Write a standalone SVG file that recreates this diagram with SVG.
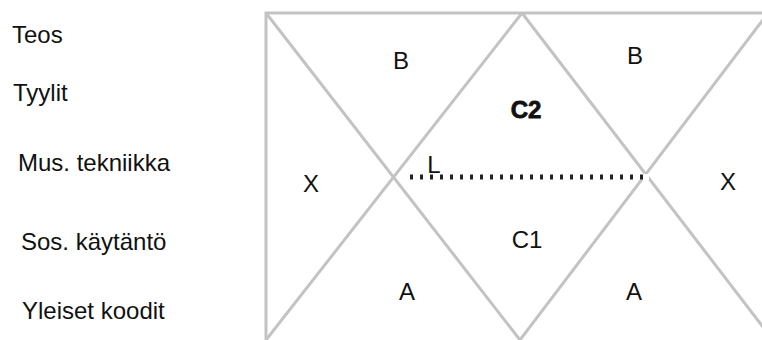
<svg xmlns="http://www.w3.org/2000/svg" width="762" height="340" viewBox="0 0 762 340">
<style>
.ln{stroke:#c3c3c3;stroke-width:3;fill:none}
.lab{font-family:"Liberation Sans",Arial,sans-serif;font-size:24px;fill:#111}
.reg{font-family:"Liberation Sans",Arial,sans-serif;font-size:24px;fill:#111;text-anchor:middle}
.dot{stroke:#222;stroke-width:5;stroke-dasharray:3 7;fill:none}
</style>
<rect width="762" height="340" fill="#fff"/>
<g id="connectors">
<path class="ln" d="M266,340 V13 H762"/>
<line class="ln" x1="266" y1="13" x2="520" y2="340"/>
<line class="ln" x1="522" y1="13" x2="266" y2="340"/>
<line class="ln" x1="522" y1="13" x2="773" y2="340"/>
<line class="ln" x1="520" y1="340" x2="768" y2="13"/>
<line class="dot" x1="410" y1="177" x2="643" y2="177"/>
<rect x="643" y="174" width="6" height="6" fill="#fff"/>
</g>
<g id="levels">
<text class="lab" x="12" y="43">Teos</text>
<text class="lab" x="13" y="101">Tyylit</text>
<text class="lab" x="18" y="171">Mus. tekniikka</text>
<text class="lab" x="21" y="250">Sos. käytäntö</text>
<text class="lab" x="22" y="319">Yleiset koodit</text>
</g>
<g id="regions">
<text class="reg" x="401" y="69">B</text>
<text class="reg" x="635" y="64">B</text>
<text class="reg" x="526" y="118" font-weight="bold" stroke="#111" stroke-width="0.8">C2</text>
<text class="reg" x="434" y="173">L</text>
<text class="reg" x="311" y="192">X</text>
<text class="reg" x="728" y="190">X</text>
<text class="reg" x="527" y="248">C1</text>
<text class="reg" x="407" y="300">A</text>
<text class="reg" x="634" y="300">A</text>
</g>
</svg>
